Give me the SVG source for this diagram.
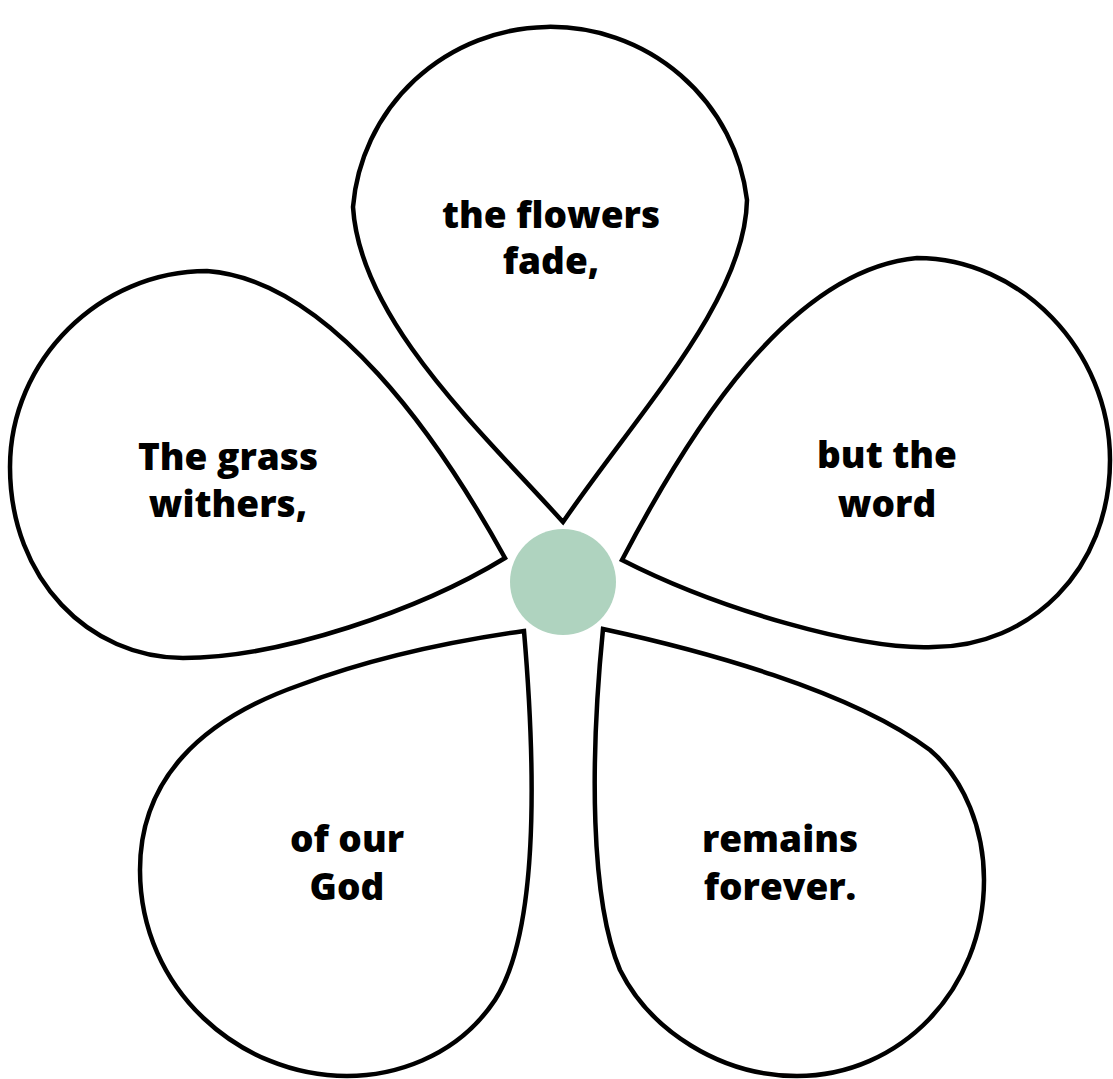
<svg xmlns="http://www.w3.org/2000/svg" width="1113" height="1079" viewBox="0 0 1113 1079">
<style>
.petal{fill:#ffffff;stroke:#000000;stroke-width:4.5;stroke-linejoin:miter}
.lbl{font-family:"Open Sans","Liberation Sans",sans-serif;font-weight:800;font-size:37px;fill:#000000;text-anchor:middle}
.center{fill:#AFD3BF}
</style>
<rect width="1113" height="1079" fill="#ffffff"/>
<g id="petal-top">
<path class="petal" d="M563,522 C480,430 360,320 353,207 A198 196 0 0 1 747,200 C745,300 640,410 563,522 Z"/>
<text class="lbl" x="551" y="228">the flowers</text>
<text class="lbl" x="551" y="274">fade,</text>
</g>
<g id="petal-right">
<path class="petal" d="M622,560 C690,430 790,270 917,258 C1020,258 1110,350 1110,460 C1110,570 1030,647 933,647 C860,650 720,610 622,560 Z"/>
<text class="lbl" x="887" y="468">but the</text>
<text class="lbl" x="887" y="517">word</text>
</g>
<g id="petal-left">
<path class="petal" d="M505,558 C440,440 330,280 207,271 C100,271 10,360 10,467 C10,580 90,658 183,658 C280,658 420,610 505,558 Z"/>
<text class="lbl" x="228" y="470">The grass</text>
<text class="lbl" x="228" y="517">withers,</text>
</g>
<g id="petal-bottom-left">
<path class="petal" d="M524,631 C535,760 540,930 495,1000 C455,1060 390,1076 347,1076 C240,1076 140,990 140,870 C140,780 200,720 300,685 C380,655 460,640 524,631 Z"/>
<text class="lbl" x="347" y="852">of our</text>
<text class="lbl" x="347" y="900">God</text>
</g>
<g id="petal-bottom-right">
<path class="petal" d="M603,629 C700,650 850,690 930,750 C965,780 984,830 984,880 C984,990 900,1076 797,1076 C720,1076 650,1030 620,970 C590,900 590,760 603,629 Z"/>
<text class="lbl" x="780" y="852">remains</text>
<text class="lbl" x="780" y="900">forever.</text>
</g>
<g id="center">
<circle class="center" cx="563" cy="582" r="53"/>
</g>
</svg>
